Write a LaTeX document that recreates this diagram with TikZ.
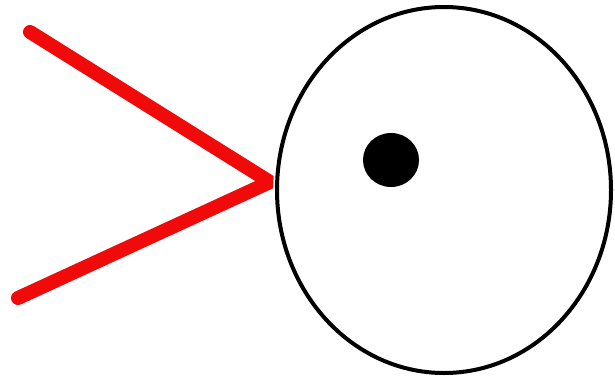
\documentclass[tikz,border=0pt]{standalone}
\begin{document}
\begin{tikzpicture}[x=1pt,y=-1pt,
  redline/.style={draw={rgb,255:red,240;green,10;blue,10},line width=14pt,line cap=round,line join=bevel},
  body/.style={draw=black,line width=4pt}]
\useasboundingbox[fill=white] (0,0) rectangle (615,375);
\coordinate (top) at (30,32);
\coordinate (apex) at (270,182);
\coordinate (bot) at (18,298);
\draw[redline] (top) -- (apex) -- (bot);
\draw[body] (444,190) ellipse [x radius=167, y radius=183];
\fill[black] (391,160) ellipse [x radius=28, y radius=27];
\end{tikzpicture}
\end{document}
